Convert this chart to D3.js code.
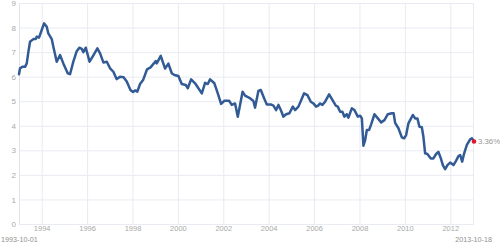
<!DOCTYPE html>
<html>
<head>
<meta charset="utf-8">
<script src="https://cdn.jsdelivr.net/npm/d3@7"></script>
<style>
  html, body { margin: 0; padding: 0; background: #fff; }
  svg { display: block; font-family: "Liberation Sans", Arial, Helvetica, sans-serif; }
</style>
</head>
<body>
<svg id="chart" width="500" height="247"></svg>
<script>
// ---- data ----
const startDate = "1993-10-01";
const endDate = "2013-10-18";
const lastLabel = "3.36%";

// observation times, as decimal years
const obsYears = [
  1993.748, 1993.794, 1993.895, 1994.014, 1994.089, 1994.160, 1994.235, 1994.380, 1994.486, 1994.530,
  1994.631, 1994.750, 1994.852, 1994.971, 1995.041, 1995.191, 1995.262, 1995.411, 1995.557, 1995.702,
  1995.896, 1995.998, 1996.143, 1996.293, 1996.407, 1996.513, 1996.584, 1996.689, 1996.857, 1997.011,
  1997.201, 1997.320, 1997.465, 1997.615, 1997.760, 1997.906, 1998.047, 1998.201, 1998.355, 1998.496,
  1998.664, 1998.774, 1998.875, 1998.963, 1999.082, 1999.215, 1999.391, 1999.545, 1999.699, 1999.774,
  1999.818, 1999.995, 2000.184, 2000.330, 2000.480, 2000.594, 2000.770, 2000.920, 2001.096, 2001.185,
  2001.330, 2001.506, 2001.652, 2001.802, 2001.947, 2002.066, 2002.167, 2002.357, 2002.507, 2002.652,
  2002.798, 2003.005, 2003.124, 2003.269, 2003.388, 2003.600, 2003.710, 2003.899, 2004.076, 2004.150,
  2004.296, 2004.402, 2004.547, 2004.666, 2004.842, 2004.957, 2005.076, 2005.177, 2005.283, 2005.398,
  2005.517, 2005.662, 2005.812, 2005.913, 2006.059, 2006.165, 2006.310, 2006.456, 2006.605, 2006.720,
  2006.839, 2006.927, 2007.015, 2007.116, 2007.235, 2007.412, 2007.557, 2007.707, 2007.795, 2007.897,
  2007.998, 2008.086, 2008.192, 2008.262, 2008.412, 2008.527, 2008.676, 2008.778, 2008.853, 2008.923,
  2008.998, 2009.073, 2009.174, 2009.263, 2009.408, 2009.558, 2009.703, 2009.849, 2009.999, 2010.175,
  2010.254, 2010.320, 2010.466, 2010.616, 2010.717, 2010.805, 2010.906, 2010.981, 2011.100, 2011.202,
  2011.303, 2011.391, 2011.497, 2011.567, 2011.642, 2011.743, 2011.893, 2012.008, 2012.127, 2012.228,
  2012.334, 2012.422, 2012.523, 2012.625, 2012.744, 2012.889, 2013.008, 2013.110, 2013.185, 2013.273,
  2013.361, 2013.480, 2013.626, 2013.701, 2013.795
];

// rate values, percent
const rates = [
  6.10, 6.34, 6.40, 6.40, 6.54, 7.00, 7.42, 7.53, 7.53, 7.63,
  7.59, 7.90, 8.17, 8.03, 7.76, 7.53, 7.22, 6.61, 6.88, 6.54,
  6.14, 6.10, 6.61, 7.04, 7.18, 7.13, 7.00, 7.18, 6.61, 6.85,
  7.15, 6.95, 6.58, 6.61, 6.34, 6.20, 5.90, 6.00, 5.98, 5.80,
  5.45, 5.38, 5.44, 5.39, 5.70, 5.86, 6.30, 6.38, 6.55, 6.64,
  6.54, 6.85, 6.33, 6.53, 6.14, 6.07, 6.03, 5.70, 5.66, 5.53,
  5.89, 5.73, 5.53, 5.32, 5.75, 5.70, 5.89, 5.73, 5.32, 4.89,
  5.02, 5.02, 4.85, 4.91, 4.37, 5.39, 5.23, 5.14, 5.01, 4.74,
  5.42, 5.46, 5.12, 4.87, 4.87, 4.82, 4.64, 4.85, 4.64, 4.37,
  4.47, 4.51, 4.78, 4.64, 4.78, 5.01, 5.32, 5.25, 4.98, 4.91,
  4.78, 4.82, 4.91, 4.85, 4.98, 5.28, 5.05, 4.82, 4.78, 4.57,
  4.57, 4.37, 4.47, 4.33, 4.71, 4.64, 4.37, 4.41, 4.30, 3.19,
  3.42, 3.83, 3.83, 4.06, 4.47, 4.30, 4.14, 4.23, 4.47, 4.51,
  4.51, 4.12, 3.90, 3.53, 3.49, 3.62, 4.10, 4.23, 4.44, 4.30,
  4.30, 3.96, 3.94, 3.55, 2.88, 2.85, 2.67, 2.67, 2.85, 2.94,
  2.67, 2.40, 2.23, 2.40, 2.50, 2.40, 2.58, 2.77, 2.81, 2.54,
  2.88, 3.22, 3.45, 3.49, 3.36
];

// x tick marks (dates) and their labels
const xTickDates = ["1994-10-01", "1996-10-01", "1998-10-01", "2000-10-01", "2002-10-01",
                    "2004-10-01", "2006-10-01", "2008-10-01", "2010-10-01", "2012-10-01"];
const xTickLabels = ["1994", "1996", "1998", "2000", "2002", "2004", "2006", "2008", "2010", "2012"];
const yTicks = [0, 1, 2, 3, 4, 5, 6, 7, 8, 9];

// ---- drawing ----
const parse = d3.utcParse("%Y-%m-%d");
function fromDecimal(yv) {
  const yr = Math.floor(yv);
  const a = Date.UTC(yr, 0, 1), b = Date.UTC(yr + 1, 0, 1);
  return new Date(a + (yv - yr) * (b - a));
}
const data = obsYears.map((yv, i) => ({ date: fromDecimal(yv), value: rates[i] }));

const svg = d3.select("#chart");
const mLeft = 19, mRight = 474, mTop = 3, mBottom = 224;

const x = d3.scaleUtc().domain([parse(startDate), parse(endDate)]).range([mLeft, mRight]);
const y = d3.scaleLinear().domain([0, 9]).range([mBottom, mTop]);

const grid = "#e9ebf2";
const labelColor = "#a9a9a9";

// horizontal grid + y labels
const yAxis = d3.axisLeft(y).tickValues(yTicks).tickSize(-(mRight - mLeft)).tickPadding(3);
const gy = svg.append("g").attr("transform", `translate(${mLeft},0)`).call(yAxis);
gy.select(".domain").remove();
gy.selectAll(".tick line").attr("stroke", grid).attr("stroke-width", 1);
gy.selectAll(".tick text").attr("fill", labelColor).attr("font-size", 8)
  .attr("font-family", "Liberation Sans, Arial, sans-serif");

// vertical grid + x labels
const labelMap = new Map(xTickDates.map((d, i) => [parse(d).getTime(), xTickLabels[i]]));
const xAxis = d3.axisBottom(x).tickValues(xTickDates.map(parse))
  .tickSize(-(mBottom - mTop)).tickPadding(2)
  .tickFormat(d => labelMap.get(d.getTime()));
const gx = svg.append("g").attr("transform", `translate(0,${mBottom})`).call(xAxis);
gx.select(".domain").remove();
gx.selectAll(".tick line").attr("stroke", grid).attr("stroke-width", 1);
gx.selectAll(".tick text").attr("fill", labelColor).attr("font-size", 7.5)
  .attr("font-family", "Liberation Sans, Arial, sans-serif");

// frame left / right
svg.append("line").attr("x1", mLeft + 0.5).attr("x2", mLeft + 0.5).attr("y1", mTop).attr("y2", mBottom)
  .attr("stroke", "#e2e4ec");
svg.append("line").attr("x1", mRight - 0.5).attr("x2", mRight - 0.5).attr("y1", mTop).attr("y2", mBottom)
  .attr("stroke", grid);

// line
const line = d3.line().x(d => x(d.date)).y(d => y(d.value)).curve(d3.curveLinear);
svg.append("path").datum(data).attr("d", line)
  .attr("fill", "none").attr("stroke", "#325b95").attr("stroke-width", 2.5)
  .attr("stroke-linejoin", "round").attr("stroke-linecap", "round");

// last point
const last = data[data.length - 1];
svg.append("circle").attr("cx", x(last.date)).attr("cy", y(last.value)).attr("r", 2.3)
  .attr("fill", "#e3162b");
svg.append("text").attr("x", x(last.date) + 4).attr("y", y(last.value)).attr("dy", "0.35em")
  .attr("fill", "#999").attr("font-size", 7.8).text(lastLabel);

// start / end dates
svg.append("text").attr("x", 1).attr("y", 242).attr("fill", "#8f8f8f").attr("font-size", 7.2)
  .text(startDate);
svg.append("text").attr("x", 492).attr("y", 242).attr("text-anchor", "end")
  .attr("fill", "#8f8f8f").attr("font-size", 7.2).text(endDate);
</script>
</body>
</html>
